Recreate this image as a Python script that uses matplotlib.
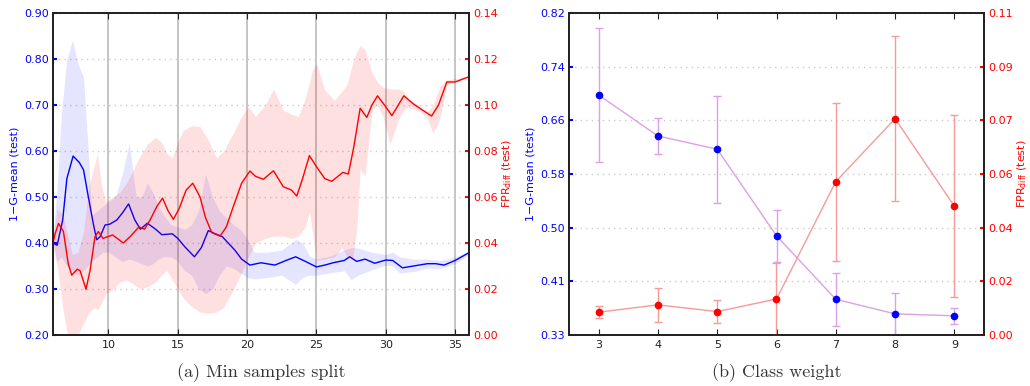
import numpy as np
import matplotlib
matplotlib.use("Agg")
import matplotlib.pyplot as plt
from matplotlib.ticker import FormatStrFormatter

# ---- (a) min samples split: mean curves ----
gm_x = [6.0, 6.3, 6.7, 7.0, 7.45, 7.9, 8.2, 8.55, 8.9, 9.15, 9.4, 9.75, 10.1, 10.6, 11.0, 11.45,
        11.9, 12.3, 12.8, 13.4, 13.85, 14.6, 15.0, 15.5, 16.2, 16.7, 17.2, 17.7, 18.2, 19.1, 19.6,
        20.2, 21.0, 22.0, 22.8, 23.5, 24.2, 25.0, 25.6, 26.2, 27.0, 27.4, 27.9, 28.5, 29.2, 30.0,
        30.5, 31.2, 32.0, 33.0, 33.6, 34.2, 35.0, 36.0]
gm_y = [0.40, 0.395, 0.45, 0.54, 0.589, 0.575, 0.559, 0.50, 0.443, 0.407, 0.414, 0.439, 0.441,
        0.45, 0.465, 0.485, 0.45, 0.43, 0.443, 0.43, 0.418, 0.42, 0.41, 0.392, 0.37, 0.39, 0.427,
        0.42, 0.414, 0.385, 0.365, 0.352, 0.357, 0.352, 0.362, 0.37, 0.36, 0.348, 0.352, 0.357,
        0.362, 0.37, 0.36, 0.365, 0.356, 0.363, 0.362, 0.346, 0.35, 0.355, 0.355, 0.352, 0.362, 0.379]

fpr_x = [6.0, 6.15, 6.4, 6.75, 7.1, 7.35, 7.75, 7.95, 8.38, 8.67, 9.03, 9.27, 9.6, 10.3, 11.07,
         11.6, 12.2, 12.6, 13.0, 13.5, 13.9, 14.3, 14.68, 15.1, 15.6, 16.08, 16.6, 17.0, 17.45,
         18.05, 18.5, 19.0, 19.6, 20.2, 20.6, 21.17, 21.9, 22.6, 23.2, 23.58, 24.0, 24.49, 25.02,
         25.6, 26.1, 26.9, 27.3, 27.7, 28.15, 28.63, 29.0, 29.4, 29.9, 30.44, 30.9, 31.3, 32.0,
         33.3, 33.8, 34.4, 35.0, 36.0]
fpr_y = [0.040, 0.044, 0.0485, 0.045, 0.031, 0.026, 0.0286, 0.028, 0.0199, 0.028, 0.0428, 0.045,
         0.042, 0.0435, 0.040, 0.043, 0.047, 0.046, 0.050, 0.056, 0.0595, 0.054, 0.0503, 0.055,
         0.063, 0.066, 0.060, 0.051, 0.0445, 0.043, 0.047, 0.0558, 0.066, 0.0713, 0.069, 0.0677,
         0.0714, 0.0645, 0.063, 0.0604, 0.068, 0.078, 0.073, 0.068, 0.0668, 0.0707, 0.070, 0.082,
         0.0986, 0.0946, 0.100, 0.104, 0.100, 0.0954, 0.100, 0.104, 0.1004, 0.0952, 0.100, 0.110,
         0.110, 0.1123]

# ---- (a) spread bands ----
gm_band_x = [6.0, 6.3, 6.6, 7.0, 7.4, 7.8, 8.2, 8.5, 8.8, 9.2, 9.6, 10.0, 10.5, 11.0, 11.5, 12.0,
             12.4, 12.8, 13.2, 13.6, 14.0, 14.5, 15.0, 15.5, 16.0, 16.5, 17.0, 17.5, 18.0, 18.5,
             19.0, 19.5, 20.0, 20.5, 21.5, 22.5, 23.5, 24.0, 24.5, 25.0, 26.0, 27.0, 27.5, 28.0,
             29.0, 30.0, 30.5, 31.0, 32.0, 33.0, 34.0, 35.0, 36.0]
gm_hi = [0.41, 0.52, 0.68, 0.80, 0.84, 0.79, 0.76, 0.62, 0.46, 0.47, 0.48, 0.49, 0.50, 0.55, 0.617,
         0.50, 0.50, 0.53, 0.51, 0.48, 0.46, 0.44, 0.435, 0.43, 0.44, 0.47, 0.55, 0.50, 0.47, 0.455,
         0.44, 0.43, 0.41, 0.38, 0.38, 0.385, 0.408, 0.40, 0.372, 0.365, 0.372, 0.385, 0.39, 0.389,
         0.38, 0.375, 0.38, 0.37, 0.365, 0.365, 0.362, 0.37, 0.382]
gm_lo = [0.40, 0.36, 0.37, 0.35, 0.34, 0.33, 0.34, 0.35, 0.36, 0.37, 0.38, 0.38, 0.37, 0.36, 0.365,
         0.36, 0.355, 0.35, 0.355, 0.365, 0.37, 0.37, 0.36, 0.34, 0.33, 0.30, 0.29, 0.30, 0.33, 0.35,
         0.345, 0.335, 0.325, 0.322, 0.325, 0.33, 0.31, 0.325, 0.33, 0.33, 0.335, 0.34, 0.32, 0.33,
         0.342, 0.352, 0.35, 0.335, 0.338, 0.345, 0.345, 0.355, 0.375]

fpr_band_x = [6.0, 6.3, 6.7, 7.0, 7.4, 7.8, 8.2, 8.6, 9.0, 9.2, 9.5, 9.8, 10.3, 10.8, 11.3, 11.8,
              12.3, 12.8, 13.4, 13.8, 14.2, 14.6, 15.0, 15.4, 16.0, 16.6, 17.2, 17.8, 18.3, 19.0,
              19.6, 20.1, 20.6, 21.3, 21.9, 22.6, 23.2, 23.7, 24.2, 24.5, 24.7, 25.0, 25.6, 26.3,
              26.85, 27.2, 27.6, 27.9, 28.15, 28.5, 29.0, 29.4, 29.8, 30.3, 30.9, 31.3, 31.6, 32.5,
              33.0, 33.4, 33.9, 34.4, 36.0]
fpr_hi = [0.042, 0.055, 0.052, 0.045, 0.035, 0.036, 0.045, 0.065, 0.074, 0.079, 0.065, 0.058, 0.060,
          0.062, 0.066, 0.072, 0.078, 0.083, 0.086, 0.084, 0.079, 0.077, 0.084, 0.089, 0.091, 0.0906,
          0.0848, 0.077, 0.080, 0.0877, 0.095, 0.0993, 0.095, 0.100, 0.107, 0.0978, 0.096, 0.095,
          0.103, 0.110, 0.115, 0.118, 0.1065, 0.102, 0.106, 0.109, 0.118, 0.123, 0.126, 0.124, 0.114,
          0.110, 0.1077, 0.107, 0.107, 0.106, 0.103, 0.099, 0.097, 0.100, 0.108, 0.111, 0.1123]
fpr_lo = [0.038, 0.030, 0.012, 0.001, 0.0, 0.0, 0.005, 0.010, 0.012, 0.011, 0.014, 0.018, 0.0196,
          0.023, 0.024, 0.022, 0.020, 0.021, 0.023, 0.026, 0.028, 0.024, 0.020, 0.016, 0.0123, 0.010,
          0.0094, 0.010, 0.012, 0.0196, 0.027, 0.034, 0.040, 0.042, 0.043, 0.043, 0.042, 0.043, 0.047,
          0.0536, 0.045, 0.0326, 0.033, 0.034, 0.038, 0.034, 0.033, 0.045, 0.072, 0.069, 0.098, 0.100,
          0.095, 0.083, 0.0935, 0.098, 0.099, 0.097, 0.094, 0.0877, 0.094, 0.109, 0.1123]

# ---- (b) class weight ----
cw = [3, 4, 5, 6, 7, 8, 9]
cw_gm = [0.696, 0.634, 0.614, 0.483, 0.387, 0.365, 0.362]
cw_gm_err = [0.101, 0.027, 0.081, 0.039, 0.040, 0.032, 0.0125]
cw_fpr = [0.0078, 0.0103, 0.0080, 0.0123, 0.0524, 0.0739, 0.0440]
cw_fpr_err = [0.002, 0.0059, 0.0038, 0.0124, 0.027, 0.0282, 0.031]

BLUE = "#0000ff"
RED = "#ff0000"

fig = plt.figure(figsize=(10.30, 3.86), dpi=100)


def style_axes(ax, ax2, left_col, right_col):
    for a in (ax, ax2):
        for s in a.spines.values():
            s.set_linewidth(1.3)
            s.set_color("#222222")
    ax.tick_params(axis="x", direction="in", top=True, length=4, labelsize=8, colors="#222222")
    ax.tick_params(axis="y", direction="in", length=3, width=1.5, labelsize=8, pad=3,
                   color=left_col, labelcolor=left_col)
    ax2.tick_params(axis="y", direction="in", length=3, width=1.5, labelsize=8, pad=3,
                    color=right_col, labelcolor=right_col)
    ax.set_ylabel("1\u2212G-mean (test)", color=left_col, fontsize=8, labelpad=3)
    ax2.set_ylabel("FPR$_{\\mathrm{diff}}$ (test)", color=right_col, fontsize=8, labelpad=2)


# ---- panel (a) ----
ax1 = fig.add_axes([53 / 1030, 51 / 386, 416 / 1030, 322 / 386])
ax1b = ax1.twinx()

ax1.fill_between(gm_band_x, gm_lo, gm_hi, color=BLUE, alpha=0.1, linewidth=0)
ax1.plot(gm_x, gm_y, color=BLUE, lw=1)
ax1b.fill_between(fpr_band_x, fpr_lo, fpr_hi, color=RED, alpha=0.12, linewidth=0)
ax1b.plot(fpr_x, fpr_y, color=RED, lw=1)

ax1.set_xlim(6, 36)
ax1.set_ylim(0.2, 0.9)
ax1b.set_ylim(0.0, 0.14)
ax1.set_xticks([10, 15, 20, 25, 30, 35])
ax1.set_yticks(np.arange(0.2, 0.901, 0.1))
ax1b.set_yticks(np.arange(0.0, 0.1401, 0.02))
ax1.yaxis.set_major_formatter(FormatStrFormatter("%.2f"))
ax1b.yaxis.set_major_formatter(FormatStrFormatter("%.2f"))
ax1.xaxis.grid(True, color="#bbbbbb", lw=1.2, ls="-")
ax1.yaxis.grid(True, color="#cccccc", lw=1, ls=(0, (1, 3)))
ax1.set_axisbelow(True)
style_axes(ax1, ax1b, BLUE, RED)

# ---- panel (b) ----
ax2 = fig.add_axes([569 / 1030, 51 / 386, 415 / 1030, 322 / 386])
ax2b = ax2.twinx()

ax2.errorbar(cw, cw_gm, yerr=cw_gm_err, color="#dca0e6", lw=1, elinewidth=1, capsize=3,
             capthick=1, marker="o", markersize=4.5, markerfacecolor=BLUE, markeredgecolor=BLUE)
ax2b.errorbar(cw, cw_fpr, yerr=cw_fpr_err, color="#f79a9a", lw=1, elinewidth=1, capsize=3,
              capthick=1, marker="o", markersize=4.5, markerfacecolor=RED, markeredgecolor=RED)

ax2.set_xlim(2.5, 9.5)
ax2.set_ylim(0.333, 0.82)
ax2b.set_ylim(0.0, 0.11)
ax2.set_xticks(cw)
ax2.set_yticks(np.linspace(0.333, 0.82, 7))
ax2b.set_yticks(np.linspace(0.0, 0.11, 7))
ax2.yaxis.set_major_formatter(FormatStrFormatter("%.2f"))
ax2b.yaxis.set_major_formatter(FormatStrFormatter("%.2f"))
ax2.yaxis.grid(True, color="#cccccc", lw=1, ls=(0, (1, 3)))
ax2.set_axisbelow(True)
style_axes(ax2, ax2b, BLUE, RED)

fig.text(261 / 1030, 0.034, "(a) Min samples split", ha="center", va="center",
         fontsize=13, family="cmr10", color="#333333")
fig.text(776.5 / 1030, 0.034, "(b) Class weight", ha="center", va="center",
         fontsize=13, family="cmr10", color="#333333")

fig.savefig("out.png", dpi=100)
